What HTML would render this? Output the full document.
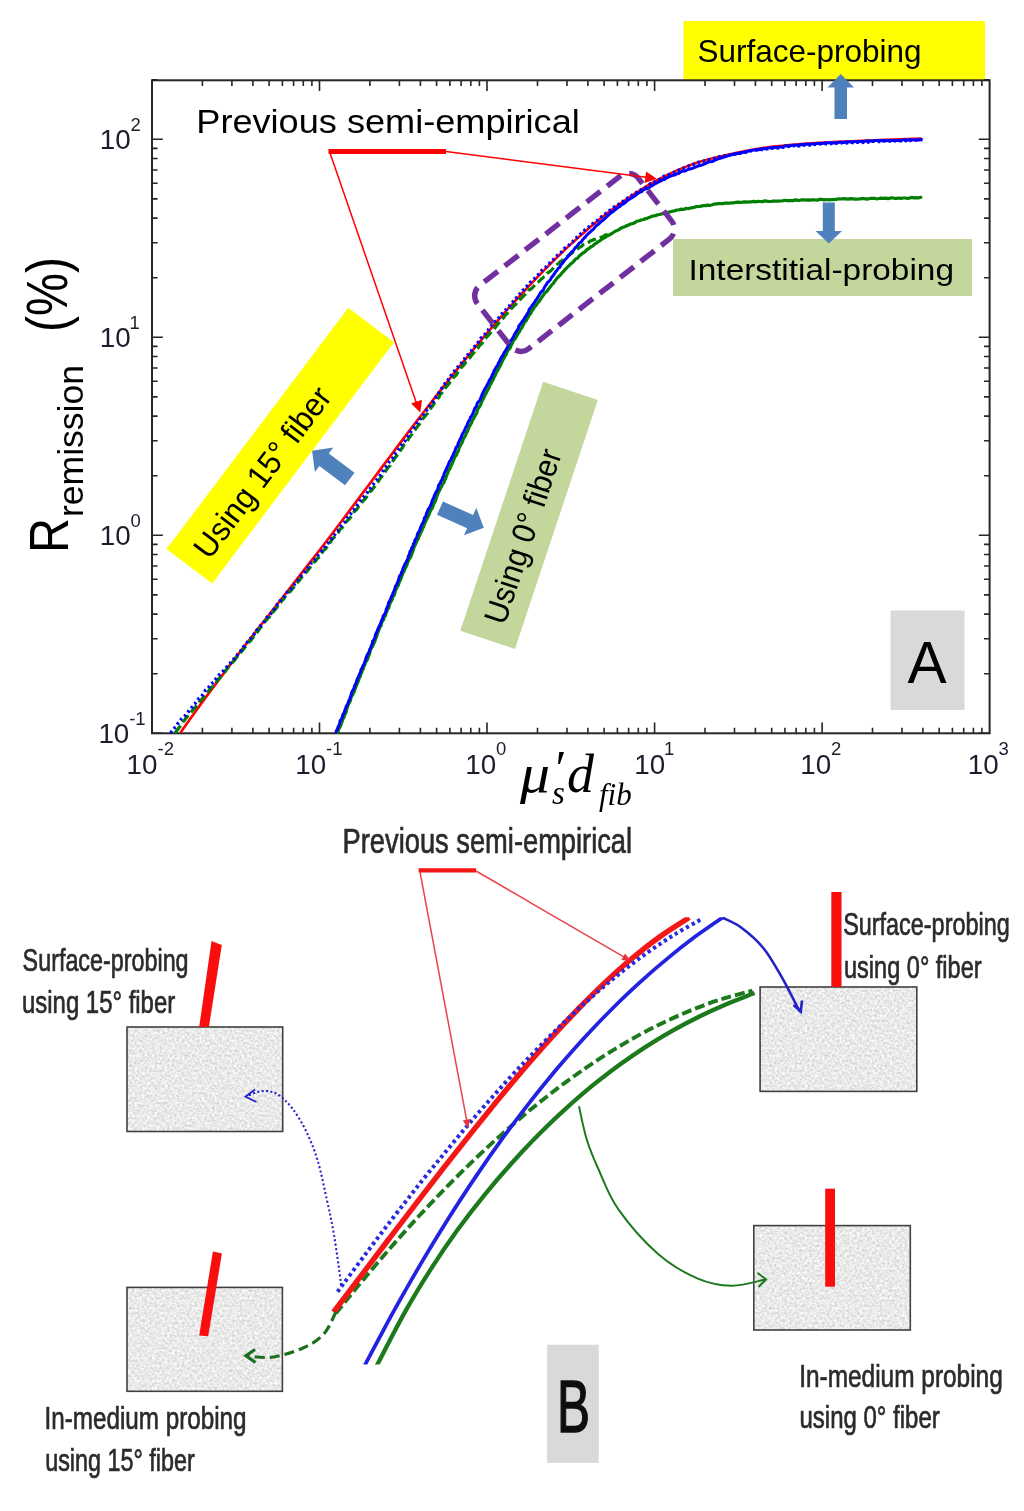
<!DOCTYPE html>
<html lang="en"><head><meta charset="utf-8"><title>Remission figure</title>
<style>
html,body{margin:0;padding:0;background:#fff}
body{width:1024px;height:1511px;overflow:hidden}
svg{display:block}
.cal{font-family:"Liberation Sans",sans-serif;fill:#000}
.tick{font-family:"Liberation Sans",sans-serif;fill:#1c1c2c}
.ser{font-family:"Liberation Serif",serif;font-style:italic;fill:#000}
.pb{font-family:"Liberation Sans",sans-serif;fill:#2b2b2b;stroke:#2b2b2b;stroke-width:0.7px}
</style></head><body>
<svg width="1024" height="1511" viewBox="0 0 1024 1511">
<rect width="1024" height="1511" fill="#fff"/>
<g id="panelA">
<rect x="683.5" y="21" width="301.5" height="59" fill="#ffff00"/>
<path d="M152 733.3v-10.8M152 80.3v10.8M202.4 733.3v-5.6M202.4 80.3v5.6M231.9 733.3v-5.6M231.9 80.3v5.6M252.9 733.3v-5.6M252.9 80.3v5.6M269.1 733.3v-5.6M269.1 80.3v5.6M282.4 733.3v-5.6M282.4 80.3v5.6M293.6 733.3v-5.6M293.6 80.3v5.6M303.3 733.3v-5.6M303.3 80.3v5.6M311.9 733.3v-5.6M311.9 80.3v5.6M319.5 733.3v-10.8M319.5 80.3v10.8M369.9 733.3v-5.6M369.9 80.3v5.6M399.4 733.3v-5.6M399.4 80.3v5.6M420.4 733.3v-5.6M420.4 80.3v5.6M436.6 733.3v-5.6M436.6 80.3v5.6M449.9 733.3v-5.6M449.9 80.3v5.6M461.1 733.3v-5.6M461.1 80.3v5.6M470.8 733.3v-5.6M470.8 80.3v5.6M479.4 733.3v-5.6M479.4 80.3v5.6M487 733.3v-10.8M487 80.3v10.8M537.5 733.3v-5.6M537.5 80.3v5.6M567 733.3v-5.6M567 80.3v5.6M587.9 733.3v-5.6M587.9 80.3v5.6M604.1 733.3v-5.6M604.1 80.3v5.6M617.4 733.3v-5.6M617.4 80.3v5.6M628.6 733.3v-5.6M628.6 80.3v5.6M638.3 733.3v-5.6M638.3 80.3v5.6M646.9 733.3v-5.6M646.9 80.3v5.6M654.6 733.3v-10.8M654.6 80.3v10.8M705 733.3v-5.6M705 80.3v5.6M734.5 733.3v-5.6M734.5 80.3v5.6M755.4 733.3v-5.6M755.4 80.3v5.6M771.7 733.3v-5.6M771.7 80.3v5.6M784.9 733.3v-5.6M784.9 80.3v5.6M796.1 733.3v-5.6M796.1 80.3v5.6M805.8 733.3v-5.6M805.8 80.3v5.6M814.4 733.3v-5.6M814.4 80.3v5.6M822.1 733.3v-10.8M822.1 80.3v10.8M872.5 733.3v-5.6M872.5 80.3v5.6M902 733.3v-5.6M902 80.3v5.6M922.9 733.3v-5.6M922.9 80.3v5.6M939.2 733.3v-5.6M939.2 80.3v5.6M952.4 733.3v-5.6M952.4 80.3v5.6M963.7 733.3v-5.6M963.7 80.3v5.6M973.4 733.3v-5.6M973.4 80.3v5.6M981.9 733.3v-5.6M981.9 80.3v5.6M152 733.3h10.8M989.6 733.3h-10.8M152 673.7h5.6M989.6 673.7h-5.6M152 638.8h5.6M989.6 638.8h-5.6M152 614.1h5.6M989.6 614.1h-5.6M152 594.9h5.6M989.6 594.9h-5.6M152 579.2h5.6M989.6 579.2h-5.6M152 566h5.6M989.6 566h-5.6M152 554.5h5.6M989.6 554.5h-5.6M152 544.4h5.6M989.6 544.4h-5.6M152 535.3h10.8M989.6 535.3h-10.8M152 475.7h5.6M989.6 475.7h-5.6M152 440.8h5.6M989.6 440.8h-5.6M152 416.1h5.6M989.6 416.1h-5.6M152 396.9h5.6M989.6 396.9h-5.6M152 381.2h5.6M989.6 381.2h-5.6M152 368h5.6M989.6 368h-5.6M152 356.5h5.6M989.6 356.5h-5.6M152 346.4h5.6M989.6 346.4h-5.6M152 337.3h10.8M989.6 337.3h-10.8M152 277.7h5.6M989.6 277.7h-5.6M152 242.8h5.6M989.6 242.8h-5.6M152 218.1h5.6M989.6 218.1h-5.6M152 198.9h5.6M989.6 198.9h-5.6M152 183.2h5.6M989.6 183.2h-5.6M152 170h5.6M989.6 170h-5.6M152 158.5h5.6M989.6 158.5h-5.6M152 148.4h5.6M989.6 148.4h-5.6M152 139.3h10.8M989.6 139.3h-10.8M152 79.7h5.6M989.6 79.7h-5.6" stroke="#262626" stroke-width="1.6" fill="none"/>
<rect x="152" y="80.3" width="837.6" height="653" fill="none" stroke="#262626" stroke-width="2"/>
<text class="tick" x="126.6" y="773.8" font-size="27.8">10</text>
<text class="tick" x="157.5" y="755.4" font-size="18.5">-2</text>
<text class="tick" x="295.3" y="773.8" font-size="27.8">10</text>
<text class="tick" x="326.1" y="755.4" font-size="18.5">-1</text>
<text class="tick" x="465.2" y="773.8" font-size="27.8">10</text>
<text class="tick" x="496" y="755.4" font-size="18.5">0</text>
<text class="tick" x="634.2" y="773.8" font-size="27.8">10</text>
<text class="tick" x="664.1" y="755.4" font-size="18.5">1</text>
<text class="tick" x="800.3" y="773.8" font-size="27.8">10</text>
<text class="tick" x="831.1" y="755.4" font-size="18.5">2</text>
<text class="tick" x="967.8" y="773.8" font-size="27.8">10</text>
<text class="tick" x="998.6" y="755.4" font-size="18.5">3</text>
<text class="tick" x="98.4" y="742.9" font-size="27.8">10</text>
<text class="tick" x="129.2" y="724.5" font-size="18.5">-1</text>
<text class="tick" x="99.8" y="544.9" font-size="27.8">10</text>
<text class="tick" x="130.6" y="526.5" font-size="18.5">0</text>
<text class="tick" x="99.8" y="346.9" font-size="27.8">10</text>
<text class="tick" x="129.6" y="328.5" font-size="18.5">1</text>
<text class="tick" x="99.8" y="148.9" font-size="27.8">10</text>
<text class="tick" x="130.6" y="130.5" font-size="18.5">2</text>
<clipPath id="clipA"><rect x="152" y="80.3" width="837.6" height="654"/></clipPath>
<g clip-path="url(#clipA)" fill="none" stroke-linejoin="round">
<path d="M336.9 733.7L338 731.9L338.6 729.2L339.8 727.4L340.8 725.3L341.5 723.2L342.3 721.2L342.8 719.3L344 717.3L344.5 715.4L345.6 713.2L346.3 711.4L346.7 708.9L347.4 707.5L348.2 704.7L349 703.2L350.2 701L350.7 699L351.4 696.6L352.9 694.6L353.4 693.1L354.5 691.2L355.1 688.6L355.9 686.9L356.7 685L357.5 683L358.6 680.3L359.1 678.2L360.4 676.3L360.5 674.8L361.9 672.1L362.2 670.4L363.4 668.8L363.8 666.4L365 664.5L365.4 662.1L367 660.4L367.8 658.5L368.6 655.8L369.5 654.3L369.7 652.5L370.5 650.3L371.4 647.8L372.6 646.2L373.7 643.6L374.6 641.9L375.2 640.2L376 637.7L377 635.6L377.4 633.5L378.2 631.4L378.9 629.9L379.7 627.5L381.2 625.5L381.4 623.6L382.4 621.2L383.7 619.6L384.1 617.3L385.5 615.6L385.8 613.7L386.9 611.1L387.5 609.4L388.9 607.6L389.3 605.3L390.2 603L391.1 601.4L392.3 599.5L392.4 597.3L393.9 595.6L394.9 593.3L395 591.6L396.3 588.9L397 586.9L398.3 585.4L398.9 583.1L399.9 580.8L400.6 579.5L401.6 576.9L402.2 575.3L402.8 573.2L404.1 571.3L404.8 569.1L405.8 567.2L407 564.8L407.5 562.7L408.2 561.3L409.2 558.8L410.6 557.3L411.4 555L412.2 553L413.2 550.5L413.5 549.2L414.2 546.8L415.2 544.9L416.2 542.7L417 540.6L418.2 539.1L418.9 536.8L420.2 534.3L420.5 532.8L421.9 530.6L422.4 528.7L423.5 527L424.2 524.6L424.9 523L425.9 520.8L427.2 518.3L427.9 517L428.9 514.8L429.5 513.1L430.7 510.4L432 508.3L432.7 507L433.4 504.8L434.7 502.3L435.5 500.8L436.1 498.8L436.6 497L437.5 494.8L438.4 492.3L439.7 490.2L440.5 488.2L441.9 486.2L442.2 484.4L443.8 482.9L444.5 480.6L445.5 478.7L446.2 476.9L447.2 474.3L447.9 472.4L448.5 470.7L449.7 469L450.7 466.7L451.8 464.2L452.5 462.9L453.5 460.4L454.1 458.9L454.9 456.6L456.5 455L457.1 452.9L458.6 450.7L458.9 448.4L459.9 446.4L461 444.4L462.1 442.4L462.8 440.4L463.5 438.5L464.6 437L465.7 434.9L466.8 432.4L467.8 430.5L468.2 429.3L469.1 426.9L470.5 424.6L471.7 422.7L471.9 421.1L473.5 418.7L474.4 417.1L475.2 415.4L476.6 413.3L477.3 410.8L477.7 409.1L479.1 407.2L480.4 405.4L481.3 402.9L482.2 400.8L483.2 398.9L484.1 397.3L484.8 395.4L486 393.4L487.1 391.2L487.8 389.8L489.2 387.5L489.7 385.4L491.1 383.6L491.7 381.8L493.1 379.8L493.9 377.5L495.2 375.4L495.8 373.7L496.7 371.9L498.2 369.6L498.8 368.1L500.2 365.6L501.2 363.8L501.8 362.4L502.9 359.9L503.9 358.3L504.9 356.3L506.1 354.7L506.9 352.2L508 350.2L509.5 348.8L510.7 346.9L511.2 345.1L512.4 343.2L513.5 340.5L515.1 338.8L516.1 337.2L517 335.6L517.9 333.7L519.5 331.5L520.3 329.9L521.8 327.8L522.8 325.8L523.8 324L524.6 322.2L526.5 320.3L527 318.8L528.2 316.9L529.6 314.7L530.8 313.3L531.8 310.8L533.5 309L534.3 307.2L535.9 305.7L537.3 303.5L538.1 302.5L539.7 300.6L541.1 298.2L542.4 296.5L543.6 294.9L544.7 293L546.4 291.9L548 289.7L548.9 288.5L550.6 286.5L551.4 285.1L553.4 283.4L554.3 281.8L555.9 279.7L557.2 278.1L558.5 276.7L560.7 274.7L561.7 273.2L563.3 271.7L564.8 269.7L566 268.6L567.7 266.9L569.1 265.6L571 263.7L572.4 262.7L574.1 260.9L575.5 259.1L577.7 258.1L578.7 256.5L581.1 254.6L582.1 253.5L584.2 252.3L585.4 251.2L587.7 249L589 248.5L591 246.7L592.9 245.9L594.2 244.3L596.3 243.2L597.9 241.8L600.1 240.6L602 239.1L603.3 238.2L605.8 237.1L606.9 236.1L609.5 234.9L611.2 233.8L613 232.8L615.2 231.3L617.1 230.6L619.3 229.4L620.7 228.4L622.4 227.5L625.2 226.5L627.1 225.5L629 224.9L630.8 223.9L633 223.5L635.1 222.5L636.8 221.3L639.2 220.7L641.3 219.9L643.2 219.5L645.1 218.9L647.5 218.2L649 217.4L651.7 216.4L654 215.8L655.5 215.7L657.5 214.8L659.7 214.5L661.9 213.8L664.6 213.4L666.4 212.7L668.3 212.4L670.4 211.8L672.6 211.2L675.1 210.6L677 210L679.2 209.8L681.4 209.1L683.9 209.5L685.7 208.4L687.8 208.6L690.2 208.2L692 207.7L694.4 207.3L696.4 206.6L698.9 206.5L701.3 206.1L703.1 205.6L705.5 205.6L707.4 205.1L709.8 205.3L711.5 205L714 204.2L716.6 203.9L718.5 203.7L720.8 203.7L722.8 203.7L725 203.1L727.4 203L729 203.3L731.6 202.8L734.1 202.8L736 202.3L737.9 202.1L740.6 202.3L742.3 202.2L744.9 201.8L747 202.1L749.5 201.9L751.4 201.9L753.8 201.4L755.3 201.8L758.3 201.3L759.8 201.5L762.2 201.6L764.9 200.9L766.3 201.1L769.2 201.5L771.4 201.4L773.3 201L775.3 201.2L778 201.2L779.9 201L781.8 201L784.7 200.3L786.8 200.7L788.7 200.7L791.2 200.5L793 200.6L795.4 199.9L797.4 200.4L799.7 200.3L801.6 199.9L804.5 199.8L806.1 200.1L808.2 199.8L810.4 200.1L812.5 199.7L815.3 200L817.3 200.1L819.7 199.4L821.7 199.3L824.1 199.9L826.2 199.5L828.5 199.8L830.4 199.5L832.8 199.7L834.6 199.3L836.9 199.3L839 198.9L841.4 199L843.5 198.7L845.8 198.8L848.5 199.2L850.1 198.6L852.9 198.9L854.8 199.2L856.8 199.1L859.4 199L861.4 198.6L863.3 198.7L865.9 198.8L867.8 199.1L870 198.4L872.1 198.4L874.6 198.4L876.5 198.8L879.1 198.5L880.9 198.1L883.3 198.4L885.5 198.1L888 198.6L890.2 198.1L891.8 197.8L894.3 198.3L896.8 198.4L898.6 198L901.2 198.3L902.9 198L905.4 198L907.6 198.3L909.4 198.1L911.5 197.4L914 197.9L916.6 197.6L918.3 198L920.9 197.3L920.7 197.3" stroke="#007f00" stroke-width="3.2"/>
<path d="M180.6 732.6C183 729.2 190.2 718.9 195 712.2C199.8 705.5 204.6 698.9 209.5 692.4C214.3 685.8 219.1 679.4 223.9 673.1C228.7 666.7 233.5 660.4 238.3 654.1C243.1 647.9 247.9 641.7 252.7 635.5C257.5 629.4 262.4 623.2 267.2 617.1C272 611 276.8 604.9 281.6 598.8C286.4 592.7 291.2 586.6 296 580.4C300.8 574.3 305.6 568.1 310.4 561.9C315.3 555.7 320.1 549.5 324.9 543.2C329.7 536.9 334.5 530.5 339.3 524.2C344.1 517.8 348.9 511.4 353.7 505C358.5 498.6 363.4 492.1 368.2 485.7C373 479.2 377.8 472.8 382.6 466.4C387.4 460 392.2 453.5 397 447.1C401.8 440.8 406.6 434.4 411.4 428.1C416.3 421.7 421.1 415.4 425.9 409.2C430.7 403 435.5 396.8 440.3 390.6C445.1 384.5 449.9 378.4 454.7 372.4C459.5 366.4 464.3 360.5 469.2 354.6C474 348.7 478.8 342.9 483.6 337.2C488.4 331.5 493.2 325.9 498 320.3C502.8 314.8 507.6 309.3 512.4 304C517.2 298.6 522.1 293.4 526.9 288.2C531.7 283.1 536.5 278 541.3 273.1C546.1 268.2 550.9 263.3 555.7 258.6C560.5 253.9 565.3 249.3 570.1 244.9C575 240.4 579.8 236.1 584.6 231.9C589.4 227.7 594.2 223.7 599 219.8C603.8 215.9 608.6 212.1 613.4 208.5C618.2 204.9 623.1 201.5 627.9 198.2C632.7 194.9 637.5 191.7 642.3 188.8C647.1 185.8 651.9 183 656.7 180.4C661.5 177.8 666.3 175.3 671.1 173.1C676 170.8 680.8 168.7 685.6 166.9C690.4 165 694.3 163.5 700 161.8C705.7 160.1 709.7 158.8 720 156.5C730.3 154.2 746.7 150.2 762 148C777.3 145.8 795.3 144.5 812 143.3C828.7 142.1 843.8 141.6 862 140.8C880.2 140 911.2 139 921 138.6" stroke="#ff0000" stroke-width="2.6"/>
<path d="M175.1 732.7L176.5 731.1L178.1 729L179.1 727.5L180.5 726.1L182 724.3L182.9 722L184.5 720.3L185.6 718.5L187 717.1L188.3 715L189.8 713.6L191.2 712.1L192.8 710.1L194.2 708.7L195.8 706.9L196.9 704.7L198.7 703.5L199.6 701.5L201.3 699.9L202.6 698.1L204 696.8L205.1 694.9L207.1 692.9L208.3 691.5L209.2 690L210.9 687.9L212.7 686.2L213.3 684.6L214.9 683.4L216.7 681.7L217.5 679.8L219.5 678.3L220.8 676.6L222.3 674.5L223.6 672.6L225.3 671.4L226.3 669.6L227.9 667.8L228.9 666L230.7 664.5L232 662.9L233.9 661L235.3 659.3L236.1 657.8L237.4 656.4L238.9 654.5L240.4 652.6L242.2 650.9L243.4 649.3L244.8 647.4L246.1 645.6L247.1 644.2L248.8 642.1L250.7 640.7L251.9 638.9L253.1 637.5L254.1 635.8L256.1 634L257.1 632.3L258.6 630.3L259.6 628.8L261.1 626.8L262.5 625.3L263.9 623.3L264.9 621.7L266.8 619.7L267.8 618.1L269.5 617L270.9 614.7L272.3 613.3L273.4 611.6L274.8 609.9L276.5 608L277.6 606.4L278.8 604.3L280.8 602.6L281.4 601L283.6 599.2L284.5 597.5L285.9 595.8L287.8 594.5L288.8 592.5L290.4 591.4L291.6 589.5L293.4 587.7L294.7 586.2L295.9 584.1L297 583L298.6 581.2L300.1 579.4L301.4 577.5L303 576.1L304.1 574.4L305.8 572.6L307.2 571.1L308.7 569.2L310.2 567.3L311.6 565.7L312.7 563.7L314.1 562L315.9 560.8L316.8 559.1L318.6 557.6L320.2 555.8L321.5 553.8L322.6 551.7L323.7 550.3L325.4 549L326.8 547.2L328.1 545.2L329.3 543.5L330.8 541.5L331.8 539.8L333.4 538L334.6 536.9L336.5 535L338.1 532.9L338.8 531.4L340 529.3L342 527.8L343 526.5L344.5 524.7L345.5 522.8L347 520.9L348.8 519.5L350.1 518L351.6 515.8L353.1 513.8L353.9 512.1L355.5 510.4L356.7 509.4L358.1 507.3L359.4 505.8L361.2 503.5L362.3 501.9L363.3 500.5L365.1 499L366.7 496.8L368 494.8L369.1 493.7L370 491.5L372 490.1L373.4 487.9L374.6 486.6L375.7 485L377 483.1L378.6 481L379.3 479.5L381.2 477.3L382.3 475.6L383.2 473.9L385.1 472.5L386 470.1L387.1 468.9L388.4 467.1L390.2 465.4L390.9 463.1L392.7 461.2L394 459.4L394.7 458.1L396.2 456.4L397.8 454.4L398.8 452.4L400.4 450.5L401.2 449.1L402.7 447.4L403.7 444.9L405.5 443.3L406.7 442L407.8 440.2L408.9 438L410.2 436.2L411.7 434.5L412.6 432.8L414.2 430.7L415.3 429.5L416.7 427.5L417.9 425.9L419.7 423.7L420.4 422.5L421.8 420.6L423 418.4L424.2 417.2L425.8 415.2L427.4 413.5L428.8 411.1L429.7 409.3L430.9 408.1L432.6 405.9L433.6 404.3L434.9 402.2L436.2 401.1L437.1 398.9L439 397.4L439.7 395L441.3 393.6L443 391.5L444 390.4L445.1 388.3L446.8 386.3L448.3 384.5L449.4 383.2L450.3 381.1L452.3 379.5L453 378L454.9 376.3L456.5 374.7L457.3 373L459 371.1L460.5 369.6L461.4 367.5L462.9 365.9L464.1 364.6L465.6 362.3L466.9 360.7L468.4 359L470.2 357.5L471.5 355.4L473 353.7L474.3 352.4L475.8 350.4L476.7 349.1L478.4 347.6L479.4 345.7L481.2 344.1L482.9 342.1L484 340.2L485.2 338.8L486.6 337.1L488.1 335.6L490 333.5L491.5 331.9L492.7 330.8L494.4 328.6L495.6 327.1L496.6 325.8L498.2 323.6L499.9 321.8L501.3 320.6L502.7 318.9L504 317.2L505.1 315.1L507.2 313.7L508.1 311.7L510.1 310.3L510.9 309L513.1 306.9L514 305.4L515.9 304.4L516.7 302.8L518.6 300.8L520 299.5L521.9 297.8L523.4 296.1L524.8 294.9L526.6 292.8L528.4 291.8L529.2 289.7L531.2 288.9L532.9 287.2L534.5 285.5L535.8 284.2L537.9 282.5L539 281.3L541.1 279.3L542.5 278.1L543.8 276.9L546 275.5L547 273.4L549.2 271.9L550.6 271L552.5 269L554.1 267.3L555.4 266.4L556.8 264.7L558.5 263.5L560 261.9L562.2 260.5L563.4 259L565.2 257.6L567 256.7L568.8 255.2L570.8 253.9L572.4 252.7L574.2 250.9L575.6 250.2L577.6 248.9L579.4 247.4L581.7 246.3L582.9 244.8L585.3 244.3L587.3 242.8L589.1 242.1L590.7 240.8L592.9 239.9L594.9 239.4L596.9 238.5L599 237.8L601.6 237.1L603.5 236.4L605.6 234.9L607.5 234.5L609.2 233.6L611 233.1" stroke="#007f00" stroke-width="3.2" stroke-dasharray="9 4"/>
<path d="M335.8 733L336.4 730.6L337.5 729.1L338 726.9L339.2 724.9L339.7 722.8L340.1 720.6L341.5 718.9L342.5 716.6L342.7 714.6L344.2 712.8L344.7 710.7L345.7 708.3L346.1 706.6L347.5 704.3L348.1 702.8L348.8 700.8L350 698.5L350.5 696.7L351.3 694L351.7 692.3L353 689.9L354 688.2L354.5 685.9L355.6 683.9L356.3 682.2L356.9 679.9L358 677.8L358.8 675.8L359.5 673.9L360.6 671.9L360.9 669.7L362 668L362.9 665.9L364.2 663.8L364.8 661.7L365.5 660L366 657.8L367 655.4L367.8 653.8L369.1 652L369.6 649.6L370.7 647.9L371.4 645.4L372.4 643.5L372.5 641.4L374.1 639.3L375 637.6L375.2 635.4L375.9 633.7L377 631.3L378 628.9L378.8 627.1L379.6 625.5L380.8 623L381.4 620.7L382.5 618.8L383 616.7L383.6 615.4L385.1 613.4L385.9 611.2L386.3 609L387.4 607.1L388.1 604.6L388.6 602.6L389.8 600.8L390.7 598.6L391.5 596.3L392.3 595.1L393.2 592.6L394.1 590.6L395 588.4L395.3 586.4L396.8 584.4L397.3 582.8L398.3 580.7L398.9 578.3L399.5 576L400.9 574.6L401.5 572.2L402.5 570.4L403.1 567.9L403.9 566.4L404.8 564.2L406.1 562.2L407.1 560.1L408 558.1L408.3 556.2L409.5 554.5L409.8 551.8L411.2 549.9L411.8 547.7L413 546.2L413.3 544.1L414.7 541.7L414.9 539.9L416.5 538.1L417 536.1L417.6 533.6L418.6 532.2L419.8 530.1L420.5 527.5L421.2 526.1L422 524L423.3 522L424.1 519.8L424.5 517.5L426 516.1L426.3 513.8L427.3 511.6L428 509.5L429.3 508L430.5 505.6L431.4 503.7L431.9 501.7L432.5 499.9L433.7 497.7L434.4 495.3L435.3 493.7L436.2 491.6L437.7 489.6L438.1 487.7L438.6 485.4L440 483.3L441 481.2L442 479.4L442.9 477.1L443.7 475.7L444.2 473.4L445.3 471.3L446.3 469.2L446.9 467.4L448.1 465.3L448.7 463.4L449.6 461.5L451.1 459.6L451.5 457.8L452.7 456L453.7 453.2L454.9 451.3L455.3 449.7L456.1 447.3L457.6 445.9L458.1 443.4L459 441.8L459.8 439.7L461 437.9L461.8 435.3L462.8 433.4L463.8 431.8L464.9 429.3L465.7 427.3L466.9 425.6L467.5 423.8L468.5 421.4L470 419.4L470.3 417.4L471.7 415.8L472.7 414L473.6 411.6L474.1 410.2L475 407.9L476.6 406.1L477 403.8L478.1 402.1L479.7 400.5L480.7 398.1L481.6 395.9L482.3 394.1L483.2 392.2L484.2 390.3L485.1 388.3L486.7 386L487.5 384.1L488.7 382.4L489.1 380.7L490.4 378.8L491.5 376.9L492.3 374.7L493.4 373.1L494.1 370.6L495.3 368.8L496.2 367.1L497.6 365.3L498.4 363L499.5 361.4L500.5 359.1L501.3 357.4L503.1 354.9L504 353L504.7 351.9L506.3 349.2L507.2 347.8L508.5 345.6L509.1 343.6L509.9 341.8L511 340.4L512.7 338.2L513.6 336.6L514.4 334.5L515.8 332.4L516.9 330.5L518.3 328.4L518.7 326.3L519.9 324.8L521.3 323L522.2 321.4L524.1 319.4L524.6 317.7L526.1 315.9L527.1 314L528.5 312.1L529.1 309.6L530.5 308L531.8 306L532.7 304.7L534.3 302.8L535.5 300.6L536.9 299L537.8 297.3L538.9 295.5L540.2 293.2L541.3 291.8L543.2 290.1L544.3 287.6L545.2 285.9L546.5 284.4L547.5 282.4L549.2 281.2L550.6 279.3L551.5 277.5L553 275.8L554.5 273.6L555.6 271.8L557 270.4L558 268.5L559.9 267.2L560.7 265.2L562.3 263.3L563.5 262L564.8 259.8L566.8 258L567.6 256.8L569.3 254.9L570.8 253L571.9 251.7L573.6 250.3L575 248L576.4 246.8L577.8 245.2L579.2 243L581.2 242L582.4 240.1L584 238.2L585.4 237L586.7 235.2L588.4 233.5L590.3 231.9L591.9 230.4L593.5 229.1L594.5 227.7L596.2 225.8L597.6 224.8L599.9 222.8L601.2 221.4L602.9 220.4L604.3 219.1L605.8 217.7L607.6 216L609.2 214.4L611.1 212.7L613 211.7L614.8 210L616 209L617.7 207.7L619.9 206.5L621.4 204.8L622.9 204.1L625.1 202.8L626.4 201.4L628.2 200L630 198.8L632 197.7L634 196.5L635.6 195.3L637.4 193.9L639.6 192.3L641.8 191.6L642.9 190.2L645 189L647.5 188.5L649.2 187.4L651.2 186.1L653.2 185L654.6 184L657 182.8L658.6 181.9L661.1 180.9L663.1 179.6L664.4 179.4L666.9 177.8L668.3 177.2L670.8 176L672.7 175.3L674.8 175L677 173.7L679.1 173.2L680.8 171.9L682.5 171.2L685.3 171L686.6 170.2L689.3 169L690.8 168.9L693.6 167.9L695.4 167.1L697.3 166.3L699.8 165.5L701.3 165.3L703.4 164.4L705.6 163.5L707.7 162.4L709.6 161.8L712.3 161.6L714 160.6L716.5 159.7L718 158.7L720.2 158.2L722.6 157.5L724.9 156.8L726.5 156.4L728.7 155.6L731.2 154.9L732.9 154.4L735 154.2L737.6 153.3L739.3 153.6L741.2 152.5L744 152.2L745.8 151.7L747.8 151.2L750.4 150.8L751.9 150.3L754.8 150L756.2 149.5L758.4 149.7L761.3 149.3L763.1 148.7L765 148.8L767.9 148.1L769.5 148L772.2 147.7L774 147.2L776.1 147.5L778.4 147.2L780.9 146.9L783.2 146.8L785.1 145.8L787 146L789.6 146.1L791.9 145.3L793.7 145.2L796.1 145.2L798.4 145.2L800.4 144.7L802.6 144.5L804.6 144.7L806.9 144L808.8 144.4L810.9 144L813.2 144L815.6 143.9L817.7 143.3L820.2 143.8L822.1 143.6L824.4 143.1L826.4 142.9L828.5 142.6L831.2 142.7L833 142.9L835.4 142.9L837.7 142.4L840 142.2L841.9 142.2L844 142.6L846.7 141.8L848.7 141.8L850.6 142.1L853.2 141.6L855.2 141.6L857.3 141.9L859.2 141.4L861.6 141.6L863.7 141.5L866.3 141.1L868.6 141.1L870.5 141L872.4 141.4L874.7 140.6L877.5 140.6L879.7 140.8L881.5 140.6L883.5 140.8L885.9 140.7L888.1 140.6L890 140.4L892.8 140.5L894.9 140.6L897 140.6L899.4 140.3L901.6 140.5L903.3 139.7L905.4 139.8L907.9 140.2L910.5 139.8L912.6 139.7L914.4 139.9L917 139.6L919 140L920.8 139.5" stroke="#0000ff" stroke-width="3"/>
<path d="M170.7 733L171.9 731L173.3 729.6L174.8 727.7L176.6 726L177.6 723.9L178.9 722.8L180.4 720.3L181.6 718.8L183.1 717.3L184.9 715.9L186.4 713.7L187.4 712.6L188.9 711L190.6 708.6L191.9 707.3L193.1 705.2L194.9 703.8L196.3 701.8L197.4 700.9L198.6 698.8L200.5 697.6L202 695.8L203.2 694.1L204.8 691.9L205.5 690.1L207.5 688.9L209.1 686.9L210.1 685.7L211.4 683.7L213.5 682.2L214.8 680.9L215.9 678.9L217.5 676.9L218.7 675.3L220.2 673.9L222 672.3L223.5 670.7L225.1 668.9L226.3 667.5L227.9 665.6L228.9 664.2L230.8 662.6L232.5 660.5L233.9 659L235.2 657.4L236.8 655.9L237.8 653.9L239.1 652.5L240.8 650.8L242.2 649.3L243.1 647.2L244.7 645.7L246.3 643.6L247.3 642.1L248.6 640.2L250.3 639.1L251.4 636.9L253 635.5L254.6 633.5L255.8 632.2L256.8 630L258.9 628.2L259.7 626.7L260.9 625.2L262.6 623.5L264.4 621.6L265.8 619.4L266.5 618.1L267.8 616.1L269.8 614.8L271.2 613.2L272.6 611.2L273.9 609.5L275.3 607.4L276.7 606.1L277.4 604L278.9 602.7L280.2 600.8L281.5 599.4L283.8 597.1L285.2 595.5L286.2 594.2L287.2 592.4L288.6 590.8L290.7 589.3L292.1 587.3L293.2 585.9L294.7 583.9L296 582.6L297.5 580.7L299.1 578.5L300.1 577L301.2 575.7L302.6 573.6L304.5 571.8L305.4 570.3L306.8 568.5L308.8 567L310.3 565.1L311 563.3L312.4 561.7L314.5 560L315.8 558.7L316.9 557L318.2 555L319.8 552.9L321 551.7L322.7 549.9L323.9 548.3L325.2 546.2L326.1 544.2L328 543L328.9 540.9L330.3 539.7L332.2 538L333.3 535.9L334.7 534.6L336.2 532.3L337.7 531.2L339.1 529L339.7 527.5L341 525.8L342.4 524.3L344.5 522.5L345.5 520L346.7 518.2L348.3 516.9L349.2 514.8L350.8 513.6L352.1 511.7L353.7 510.1L354.7 508.2L356.7 506.3L357.3 505.1L358.7 503.2L360.1 500.9L362.2 499.2L362.9 498L364.6 495.9L366 494.3L367.1 492.9L368.3 490.8L370.1 489.5L370.8 487.6L372.1 485.7L373.8 483.6L375 482L376.1 480.5L377.4 479L379.1 476.4L380.7 474.7L381.8 473.4L382.7 471.7L384.1 469.3L385.6 468.1L386.4 466.2L387.8 464.4L388.9 462.3L390.5 460.6L391.9 458.7L393.4 457.3L394 455.1L395.3 453.3L396.7 452L398.1 450.2L399.3 448.4L401.1 446.5L401.9 444.1L403.6 442.3L405 440.9L405.7 439.4L406.8 437.7L408.7 435.7L409.3 434.2L410.7 431.7L412 430L413.2 428.3L415 426.4L415.8 424.7L417.3 422.8L418.8 421.2L420.2 419.1L421 417.8L422.6 416.3L424.1 414.1L424.8 412.4L426.4 410.6L427.6 409.1L428.6 407.1L430.3 405.4L431.1 403.2L432.9 401.8L434 399.4L435.5 397.8L436.4 396.3L438 394.1L438.8 392.8L440.2 390.9L441.6 388.6L442.9 386.8L443.8 384.9L444.9 383.8L446.7 381.5L448.1 379.8L449.5 377.9L450.5 376L452 374.6L452.8 372.6L454.3 371.2L455.7 369.1L457 367.7L458.3 366.3L459.9 364.1L461.5 362.9L462.6 360.4L464.2 359.1L465.4 357.5L466.9 356.1L468.2 354.4L469.2 352.3L471.3 350.8L472.1 349.3L473.6 347.4L475.2 345.9L476.7 344.2L478.3 342.1L479.1 340.6L480.4 338.5L482.3 337L483.7 335.7L485.2 333.8L486.2 331.9L488.1 330.1L488.9 328.5L490.4 326.7L491.9 325.1L493.3 323.6L494.7 321.7L496.6 320.7L498.3 318.6L499.3 317.1L500.5 315.5L502.1 313.5L503.5 311.8L505.3 310.2L506.7 309.2L508.2 306.8L510 305.5L510.8 304.2L512.6 302.3L513.9 300.2L515.6 299.3L516.8 297.3L518.7 295.5L519.7 294L521.5 292.6L522.6 290.5L524.6 289.4L525.9 287.8L527.1 285.9L529.1 284.4L530.1 282.6L532.1 280.9L533.6 279.8L535 278.1L536.5 276.8L538.2 274.7L539.6 273.3L540.7 271.9L542.2 269.9L544.5 268.6L545.7 267.3L547.4 265.3L548.7 263.9L550.2 262.5L552 260.8L553.3 259.7L554.7 258.1L556.5 256.6L557.9 254.7L560.2 253L561.7 251.9L563.1 250.2L564.2 248.7L566.1 247.3L568.1 246.1L569.5 244.5L570.9 242.4L572.5 241.6L574 239.9L575.4 238.1L577.5 237L579.3 235.4L580.5 234L582.5 232.5L584 230.8L585.5 229.5L587.5 228.2L589.4 226.4L590.9 225.6L592.5 223.9L593.8 222.6L595.8 221.7L597.8 220.2L599.6 218.4L601 217.1L602.6 215.9L604.8 214.2L606 213.4L608.1 211.7L610 210.2L611.7 209.4L613 208L615 206.3L616.7 205.4L618.8 204.3L620.3 202.5L622.6 201.7L623.8 200.2L625.9 199.1L628.2 197.6L630 196.7L631.3 195.9L633.1 194.2L634.8 192.8L637.2 192.3L638.6 191.2L641.2 189.7L642.5 188.9L645 187.8L646.7 186.5L648.3 185.5L650.2 183.9L652.4 183.4L654.5 182L655.9 180.8L658.1 180L659.9 179.2L661.5 177.9L663.5 176.6L665.5 175.8L667.4 174.8L669.6 174.3L672 173.5L674.2 172.3L675.7 171.2L678 170.7L680.2 169.3L681.7 168.4L684 168.1L686.3 167.1L688.1 166.3L690.2 165.2L691.8 164.8L694.1 164.2L696.2 163.8L698.6 162.3L700.2 162.1L702.8 161.4L704.7 160.9L706.9 160.5L709.3 159.6L711.2 159.1L713.2 158.5L715.1 158.2L717.3 157.8L719.3 156.8L721.5 156.7L724 156.1L725.9 155.5L728.5 155.4L730.1 154.8L732.6 154.2L734.4 153.9L737.1 153.8L739 153.2L741.4 152.8L743.6 152.2L745.9 152.2L747.8 151.9L749.9 151.1L752 150.7L754.5 150.7L756.3 150.1L758.9 149.6L760.9 149.5L762.9 149.5L764.8 149.1L767.1 148.9L769.1 148.7L771.8 148.3L773.9 148.4L776.2 148.1L778.1 148L780.7 147.5L782.2 147.4L784.6 147.1L786.9 147.1L788.7 146.3L791.5 146.1L793.3 145.7L795.4 145.5L798 146.1L800.4 145.5L801.9 145.1L804.5 144.9L806.6 145.1L809.2 145L810.9 145L812.9 144.6L815.8 144.3L817.6 144.5L819.8 143.9L822 143.9L824 143.6L826.5 143.9L828.8 143.7L830.9 143.5L833.1 143.2L835.1 143.6L837.5 143.1L839.2 143.4L841.7 142.8L843.6 143L846.2 143L848.7 142.4L850.9 142.3L852.9 142.7L855 142L857.4 142.3L859.1 141.9L861.4 142.5L863.6 142.3L865.9 141.7L868.5 142.2L870.6 142L872.6 141.4L874.8 141.4L876.7 141.7L879 141.6L881.5 141.3L883.9 141L885.8 141.2L888.1 141.4L890.4 141.1L892.5 140.7L894.8 140.8L896.9 141.1L899.2 140.7L901.4 140.9L903.7 140.3L905.7 140.7L907.3 140.7L910 140.7L911.8 140.1L914.6 140.5L916.5 140.2L918.3 139.8L920.8 139.5L923.4 140L924.2 140.2" stroke="#0000ff" stroke-width="3.4" stroke-dasharray="2.4 3"/>
</g>
<path d="M-102 -27A13 13 0 0 1 -89 -40H89A13 13 0 0 1 102 -27V27A13 13 0 0 1 89 40H-89A13 13 0 0 1 -102 27Z" transform="translate(574.5 262.3) rotate(-37.9)" fill="none" stroke="#7030a0" stroke-width="5.4" stroke-dasharray="17.3 8.685"/>
<g transform="translate(166.5 549) rotate(-53)"><rect x="0" y="0" width="302" height="57.2" fill="#ffff00"/><text class="cal" x="16.5" y="41.5" font-size="32.5" textLength="205" lengthAdjust="spacingAndGlyphs">Using 15° fiber</text></g>
<g transform="translate(460.3 630.8) rotate(-71.6)"><rect x="0" y="0" width="262.5" height="57.6" fill="#c3d69b"/><text class="cal" x="18.5" y="40.6" font-size="32.5" textLength="182" lengthAdjust="spacingAndGlyphs">Using 0° fiber</text></g>
<rect x="673" y="239" width="299" height="57" fill="#c3d69b"/>
<text class="cal" x="688.5" y="280.2" font-size="29" textLength="265.5" lengthAdjust="spacingAndGlyphs">Interstitial-probing</text>
<text class="cal" x="697.5" y="61.8" font-size="30.5" textLength="224" lengthAdjust="spacingAndGlyphs">Surface-probing</text>
<rect x="890.5" y="610.5" width="74" height="99.5" fill="#d9d9d9"/>
<text class="cal" x="927" y="682.5" font-size="58.6" text-anchor="middle">A</text>
<text class="cal" x="196.3" y="132.5" font-size="33.4" textLength="383.5" lengthAdjust="spacingAndGlyphs">Previous semi-empirical</text>
<path d="M328.5 151.5H446" stroke="#ff0000" stroke-width="5" fill="none"/>
<path d="M446 151.5L648 177.6M330 153L416.6 403.5" stroke="#ff0000" stroke-width="1.5" fill="none"/>
<path d="M656.8 178.7L644.7 182.9L646.1 171.5Z" fill="#ff0000"/>
<path d="M420.3 412.5L411.1 403.5L422 399.7Z" fill="#ff0000"/>
<path d="M847 119L847 87.5L854 87.5L840.7 74L827.5 87.5L834.5 87.5L834.5 119Z" fill="#4f81bd"/>
<path d="M822.8 202.5L822.8 231L815.5 231L828.8 243.5L842 231L834.8 231L834.8 202.5Z" fill="#4f81bd"/>
<path d="M354.5 472.8L328.8 453.5L333.3 447.5L312.1 450.8L314.9 472.1L319.4 466L345.1 485.2Z" fill="#4f81bd"/>
<path d="M437 514.7L467.1 528.2L464 535.3L483.8 527.7L476.3 507.8L473.1 515L443 501.5Z" fill="#4f81bd"/>
<g transform="translate(68 550) rotate(-90)"><text class="cal" x="-3" y="0" font-size="55.6" textLength="35" lengthAdjust="spacingAndGlyphs">R</text><text class="cal" x="33" y="14.6" font-size="35.5" textLength="152" lengthAdjust="spacingAndGlyphs">remission</text><text class="cal" x="218" y="-1.5" font-size="56.5" textLength="75" lengthAdjust="spacingAndGlyphs">(%)</text></g>
<text class="ser" x="520" y="791.5" font-size="55" textLength="30" lengthAdjust="spacingAndGlyphs">μ</text>
<text class="ser" x="552.5" y="785" font-size="50">′</text>
<text class="ser" x="552" y="804.2" font-size="33">s</text>
<text class="ser" x="567" y="791.5" font-size="54">d</text>
<text class="ser" x="599" y="805.2" font-size="31">fib</text>
</g>
<defs>
<filter id="speck" x="0" y="0" width="100%" height="100%" color-interpolation-filters="sRGB"><feTurbulence type="fractalNoise" baseFrequency="0.4" numOctaves="2" seed="7"/><feColorMatrix type="matrix" values="0.3 0 0 0 0.765  0.3 0 0 0 0.765  0.3 0 0 0 0.765  0 0 0 0 1"/></filter>
<filter id="soft" x="-2%" y="-2%" width="104%" height="104%"><feGaussianBlur stdDeviation="0.7"/></filter>
</defs>
<g id="panelB" filter="url(#soft)">
<rect x="547.1" y="1344.7" width="51.7" height="118.2" fill="#d9d9d9"/>
<rect x="127" y="1027" width="155.7" height="104.5" fill="#e5e5e5" filter="url(#speck)"/>
<rect x="127" y="1027" width="155.7" height="104.5" fill="none" stroke="#404040" stroke-width="1.6"/>
<rect x="760.1" y="987" width="156.7" height="104.4" fill="#e5e5e5" filter="url(#speck)"/>
<rect x="760.1" y="987" width="156.7" height="104.4" fill="none" stroke="#404040" stroke-width="1.6"/>
<rect x="127" y="1287.4" width="155.4" height="103.9" fill="#e5e5e5" filter="url(#speck)"/>
<rect x="127" y="1287.4" width="155.4" height="103.9" fill="none" stroke="#404040" stroke-width="1.6"/>
<rect x="753.8" y="1225.6" width="156.5" height="104.4" fill="#e5e5e5" filter="url(#speck)"/>
<rect x="753.8" y="1225.6" width="156.5" height="104.4" fill="none" stroke="#404040" stroke-width="1.6"/>
<path d="M211.5 941.1L221.8 944.9L208.9 1027L199.2 1027Z" fill="#f90d0d"/>
<rect x="831.3" y="892" width="10.2" height="95" fill="#f90d0d"/>
<path d="M212.9 1251.5L221.9 1253.4L208.2 1336.3L199.2 1335.5Z" fill="#f90d0d"/>
<rect x="825.2" y="1188.7" width="9.8" height="98" fill="#f90d0d"/>
<clipPath id="clipB"><rect x="300" y="917.2" width="470" height="447.3"/></clipPath>
<g fill="none" clip-path="url(#clipB)">
<path d="M377.4 1364.4C381.9 1355.9 395.3 1329.3 404.2 1313.4C413.1 1297.5 422.1 1282.8 431 1268.9C439.9 1254.9 448.8 1242 457.8 1229.6C466.7 1217.3 475.6 1205.8 484.6 1194.8C493.5 1183.8 502.4 1173.5 511.4 1163.5C520.3 1153.6 529.2 1144.1 538.2 1135.1C547.1 1126.1 556 1117.5 565 1109.4C573.9 1101.2 582.8 1093.6 591.7 1086.2C600.7 1078.9 609.6 1072.1 618.5 1065.5C627.5 1059 636.4 1052.9 645.3 1047.1C654.3 1041.4 663.2 1036 672.1 1030.9C681.1 1025.8 690 1021.1 698.9 1016.7C707.8 1012.3 716.8 1008.2 725.7 1004.4C734.6 1000.6 748 995.6 752.5 993.8" stroke="#1f7a1f" stroke-width="4.3" stroke-linecap="square"/>
<path d="M335.9 1313.3C340.5 1307.6 354.4 1290.3 363.7 1279.2C372.9 1268.1 382.2 1257.2 391.4 1246.7C400.7 1236.1 410 1225.8 419.2 1215.8C428.5 1205.8 437.7 1196.1 447 1186.6C456.3 1177.2 465.5 1168.1 474.8 1159.2C484 1150.4 493.3 1141.8 502.5 1133.6C511.8 1125.4 521.1 1117.4 530.3 1109.8C539.6 1102.2 548.8 1094.9 558.1 1087.9C567.3 1080.9 576.6 1074.2 585.9 1067.9C595.1 1061.5 604.4 1055.5 613.6 1049.8C622.9 1044.2 632.1 1038.8 641.4 1033.8C650.7 1028.8 659.9 1024.1 669.2 1019.8C678.4 1015.5 687.7 1011.6 697 1007.9C706.2 1004.3 715.5 1001.1 724.7 998.2C734 995.3 747.9 991.9 752.5 990.6" stroke="#1f7a1f" stroke-width="3.9" stroke-dasharray="10 4"/>
<path d="M365.7 1363.6C370.3 1355.1 384 1328.8 393.2 1312.2C402.3 1295.6 411.5 1279.6 420.6 1264.1C429.8 1248.5 439 1233.5 448.1 1219C457.3 1204.5 466.4 1190.5 475.6 1176.9C484.7 1163.4 493.9 1150.3 503 1137.7C512.2 1125.1 521.4 1113 530.5 1101.3C539.7 1089.7 548.8 1078.4 558 1067.6C567.1 1056.8 576.3 1046.5 585.5 1036.5C594.6 1026.6 603.8 1017.1 612.9 1008C622.1 998.9 631.2 990.2 640.4 981.9C649.5 973.5 658.7 965.6 667.9 958.1C677 950.6 686.2 943.4 695.3 936.6C704.5 929.8 718.2 920.6 722.8 917.3" stroke="#2222e0" stroke-width="3.8" stroke-linecap="square"/>
<path d="M335.2 1310C339.7 1304 353.2 1286.1 362.3 1274.2C371.3 1262.3 380.3 1250.4 389.3 1238.5C398.3 1226.7 407.3 1214.9 416.4 1203.2C425.4 1191.5 434.4 1179.8 443.4 1168.2C452.4 1156.7 461.5 1145.2 470.5 1133.9C479.5 1122.6 488.5 1111.4 497.5 1100.4C506.5 1089.5 515.6 1078.6 524.6 1068.1C533.6 1057.6 542.6 1047.3 551.6 1037.4C560.6 1027.5 569.7 1017.8 578.7 1008.5C587.7 999.3 596.7 990.3 605.7 981.9C614.8 973.4 623.8 965.3 632.8 957.8C641.8 950.3 650.8 943.2 659.8 936.7C668.9 930.3 682.4 921.9 686.9 919" stroke="#f51515" stroke-width="5.4" stroke-linecap="square"/>
<path d="M337.6 1291.7C342.3 1285.4 356.3 1266.3 365.7 1253.9C375 1241.4 384.4 1229.1 393.7 1217C403.1 1204.8 412.5 1192.9 421.8 1181.1C431.2 1169.4 440.5 1157.9 449.9 1146.6C459.2 1135.3 468.6 1124.2 477.9 1113.4C487.3 1102.7 496.7 1092.1 506 1081.9C515.4 1071.6 524.7 1061.7 534.1 1052.1C543.4 1042.4 552.8 1033.1 562.2 1024.1C571.5 1015.2 580.9 1006.5 590.2 998.3C599.6 990 608.9 982.1 618.3 974.6C627.6 967.1 637 960 646.4 953.4C655.7 946.7 665.1 940.4 674.4 934.6C683.8 928.8 697.8 921.3 702.5 918.6" stroke="#2a2ae0" stroke-width="4" stroke-dasharray="3.3 3.2"/>
</g>
<g fill="none">
<path d="M341 1285C340.8 1283.4 341 1283.5 339.9 1275.3C338.8 1267 336.2 1248 334.1 1235.5C332 1223 329.8 1212.9 327 1200.3C324.2 1187.7 321 1171.5 317.5 1160C314 1148.5 310.2 1139.7 306 1131C301.8 1122.3 296.8 1114.2 292 1108C287.2 1101.8 282 1096.8 277 1094C272 1091.2 267 1090.7 262 1091C257 1091.3 249.5 1095.2 247 1096" stroke="#2222c8" stroke-width="2.1" stroke-dasharray="2 2.4"/>
<path d="M255 1089.5L245.5 1096.7L256.5 1102" stroke="#2222c8" stroke-width="1.8"/>
<path d="M722.8 917.8C725.8 919.4 734.4 922.5 741.1 927.5C747.9 932.5 756.4 939.6 763.3 948C770.2 956.4 776.5 968.1 782.3 978.1C788.1 988.1 795 1002.7 798.1 1008.2C801.2 1013.7 800.2 1010.8 800.6 1011.3" stroke="#2222c8" stroke-width="2.6"/>
<path d="M793.5 1005L800.8 1011.5L802 1000.5" stroke="#2222c8" stroke-width="2.6"/>
<path d="M335.9 1312C333.9 1315.6 329.4 1327.6 324.2 1333.5C319 1339.4 313.2 1343.3 304.7 1347.2C296.2 1351.1 282.8 1355.5 273.4 1357C263.9 1358.5 252.2 1356.2 248 1356" stroke="#1f6f1f" stroke-width="3.2" stroke-dasharray="10 5"/>
<path d="M255 1349.5L246 1355.8L255.5 1362.5" stroke="#1f6f1f" stroke-width="3.2"/>
<path d="M579 1106.3C580.3 1111.9 583.6 1129.4 586.9 1140C590.2 1150.6 593.5 1158.4 598.8 1170C604 1181.6 608.6 1195.5 618.4 1209.4C628.2 1223.4 644.7 1242.2 657.8 1253.7C670.9 1265.2 684.9 1273 697.2 1278.3C709.5 1283.6 720.3 1285.5 731.6 1285.7C742.9 1285.9 759.4 1280.6 765 1279.6" stroke="#1f7a1f" stroke-width="2"/>
<path d="M757.5 1273L766.1 1279.3L758.5 1287" stroke="#1f7a1f" stroke-width="2"/>
<path d="M418.6 870.4H476" stroke="#f51515" stroke-width="4.2"/>
<path d="M476 871L626 958.2M420 872L467 1122" stroke="#ea454c" stroke-width="1.5"/>
</g>
<path d="M630.6 960.9L621.4 959.9L625.1 953.4Z" fill="#e8333a"/>
<path d="M468.1 1128.1L462.8 1120.4L470.2 1119.1Z" fill="#e8333a"/>
<text class="pb" x="342.6" y="853.2" font-size="35" textLength="289.5" lengthAdjust="spacingAndGlyphs">Previous semi-empirical</text>
<text class="pb" x="22.6" y="971.3" font-size="31.5" textLength="166" lengthAdjust="spacingAndGlyphs">Surface-probing</text>
<text class="pb" x="22" y="1013.2" font-size="31.5" textLength="153.2" lengthAdjust="spacingAndGlyphs">using 15° fiber</text>
<text class="pb" x="843.2" y="935.4" font-size="31.5" textLength="166.5" lengthAdjust="spacingAndGlyphs">Surface-probing</text>
<text class="pb" x="844" y="977.5" font-size="31.5" textLength="137.6" lengthAdjust="spacingAndGlyphs">using 0° fiber</text>
<text class="pb" x="44.5" y="1429.2" font-size="31.5" textLength="202" lengthAdjust="spacingAndGlyphs">In-medium probing</text>
<text class="pb" x="45.2" y="1471.4" font-size="31.5" textLength="149.6" lengthAdjust="spacingAndGlyphs">using 15° fiber</text>
<text class="pb" x="799.2" y="1386.6" font-size="31.5" textLength="203.6" lengthAdjust="spacingAndGlyphs">In-medium probing</text>
<text class="pb" x="799.5" y="1428.4" font-size="31.5" textLength="140.2" lengthAdjust="spacingAndGlyphs">using 0° fiber</text>
<text class="pb" x="557" y="1431.9" font-size="73.5" textLength="33" lengthAdjust="spacingAndGlyphs" style="fill:#111;stroke:#111;stroke-width:1.6px">B</text>
</g>
</svg>
</body></html>
